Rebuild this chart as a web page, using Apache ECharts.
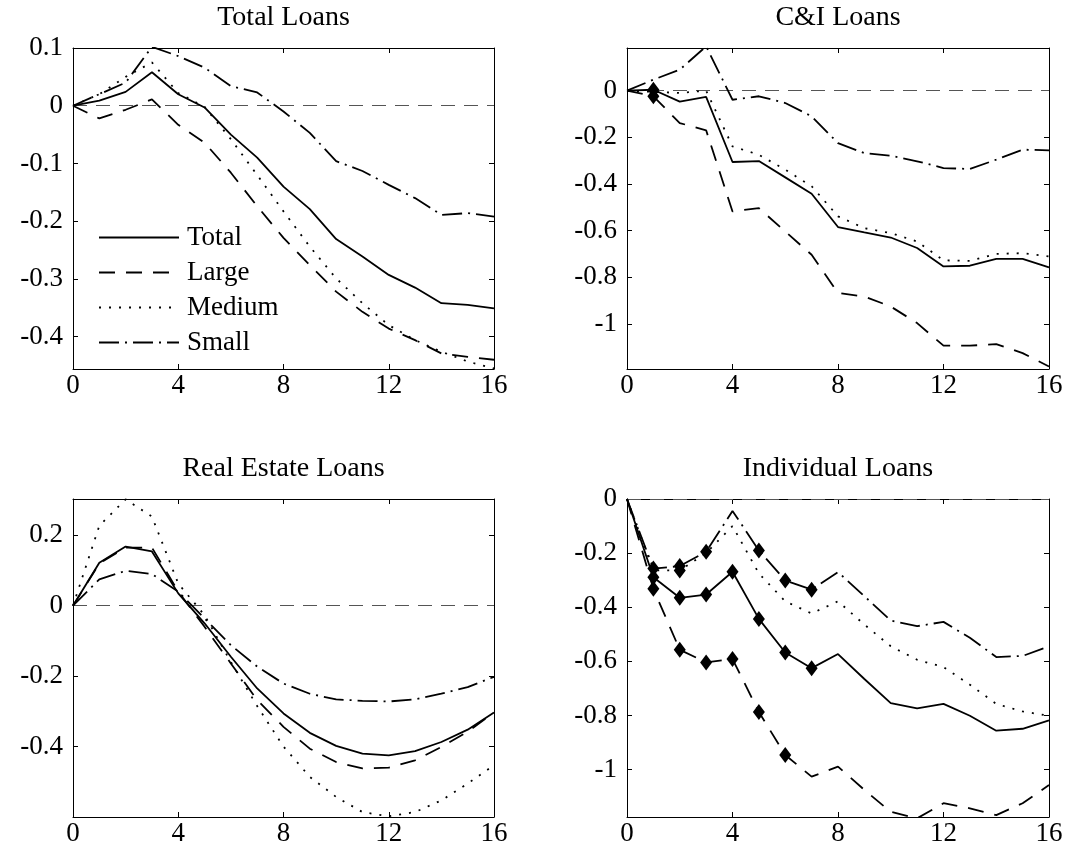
<!DOCTYPE html>
<html>
<head>
<meta charset="utf-8">
<title>Loan responses by bank size</title>
<script src="https://cdn.jsdelivr.net/npm/echarts@6/dist/echarts.min.js"></script>
<style>
  html, body { margin: 0; padding: 0; background: #fff; }
  #chart { width: 1070px; height: 859px; }
</style>
</head>
<body>
<div id="chart"></div>
<script>
// Horizon (quarters after the shock)
const steps = [0, 1, 2, 3, 4, 5, 6, 7, 8, 9, 10, 11, 12, 13, 14, 15, 16];
const xTicks = [0, 4, 8, 12, 16];

const panelTitles = ['Total Loans', 'C&I Loans', 'Real Estate Loans', 'Individual Loans'];
const seriesNames = ['Total', 'Large', 'Medium', 'Small'];

// Total Loans
const totalLoansTotal  = [0, 0.009, 0.024, 0.058, 0.020, -0.003, -0.050, -0.090, -0.140, -0.179, -0.231, -0.261, -0.293, -0.315, -0.342, -0.345, -0.351];
const totalLoansLarge  = [0, -0.022, -0.007, 0.011, -0.033, -0.064, -0.116, -0.174, -0.229, -0.276, -0.322, -0.357, -0.386, -0.406, -0.429, -0.435, -0.440];
const totalLoansMedium = [0, 0.020, 0.050, 0.075, 0.022, -0.002, -0.058, -0.120, -0.183, -0.244, -0.299, -0.342, -0.380, -0.406, -0.426, -0.443, -0.455];
const totalLoansSmall  = [0, 0.020, 0.040, 0.102, 0.086, 0.066, 0.034, 0.023, -0.010, -0.047, -0.096, -0.113, -0.137, -0.160, -0.189, -0.186, -0.192];
const totalLoansTicks  = [0.1, 0, -0.1, -0.2, -0.3, -0.4];

// C&I Loans
const ciTotal  = [0, 0.004, -0.047, -0.027, -0.306, -0.302, -0.372, -0.442, -0.585, -0.608, -0.630, -0.675, -0.754, -0.751, -0.722, -0.722, -0.758];
const ciLarge  = [0, -0.024, -0.139, -0.170, -0.518, -0.504, -0.604, -0.704, -0.868, -0.883, -0.926, -0.997, -1.094, -1.094, -1.087, -1.126, -1.183];
const ciMedium = [0, -0.005, -0.010, 0, -0.239, -0.275, -0.339, -0.410, -0.539, -0.590, -0.611, -0.647, -0.728, -0.730, -0.700, -0.697, -0.711];
const ciSmall  = [0, 0.047, 0.090, 0.190, -0.039, -0.024, -0.053, -0.110, -0.225, -0.268, -0.279, -0.303, -0.332, -0.336, -0.296, -0.253, -0.256];
const ciTicks  = [0, -0.2, -0.4, -0.6, -0.8, -1];

// Real Estate Loans
const reTotal  = [0, 0.122, 0.168, 0.154, 0.035, -0.050, -0.145, -0.235, -0.306, -0.361, -0.398, -0.420, -0.425, -0.413, -0.387, -0.352, -0.303];
const reLarge  = [0, 0.120, 0.165, 0.165, 0.040, -0.060, -0.164, -0.268, -0.344, -0.406, -0.444, -0.462, -0.460, -0.439, -0.401, -0.358, -0.303];
const reMedium = [0, 0.227, 0.302, 0.253, 0.063, -0.027, -0.160, -0.285, -0.400, -0.486, -0.543, -0.586, -0.598, -0.586, -0.553, -0.505, -0.453];
const reSmall  = [0, 0.075, 0.099, 0.090, 0.040, -0.036, -0.112, -0.173, -0.221, -0.250, -0.266, -0.270, -0.272, -0.266, -0.250, -0.231, -0.202];
const reTicks  = [0.2, 0, -0.2, -0.4];

// Individual Loans
const indTotal  = [0, -0.289, -0.365, -0.353, -0.269, -0.443, -0.567, -0.625, -0.573, -0.665, -0.754, -0.774, -0.757, -0.801, -0.856, -0.849, -0.818];
const indLarge  = [0, -0.332, -0.557, -0.604, -0.591, -0.787, -0.946, -1.026, -0.989, -1.075, -1.156, -1.180, -1.124, -1.143, -1.168, -1.124, -1.057];
const indMedium = [0, -0.264, -0.264, -0.200, -0.100, -0.275, -0.378, -0.423, -0.378, -0.464, -0.544, -0.594, -0.621, -0.686, -0.757, -0.785, -0.801];
const indSmall  = [0, -0.257, -0.248, -0.195, -0.044, -0.190, -0.301, -0.335, -0.270, -0.359, -0.449, -0.470, -0.454, -0.513, -0.584, -0.580, -0.544];
const indTicks  = [0, -0.2, -0.4, -0.6, -0.8, -1];

// Horizons flagged with a diamond marker
const ciTotalMarked  = [1];
const ciLargeMarked  = [1];
const indTotalMarked  = [1, 2, 3, 4, 5, 6, 7];
const indLargeMarked  = [1, 2, 3, 4, 5, 6];
const indMediumMarked = [2];
const indSmallMarked  = [1, 2, 3, 5, 6, 7];

const FONT = '"Liberation Serif", "Times New Roman", serif';

const panels = [
  { title: panelTitles[0], range: [-0.456, 0.1], ticks: totalLoansTicks,
    grid: { left: 73, top: 48, width: 421, height: 321 },
    lines: [totalLoansTotal, totalLoansLarge, totalLoansMedium, totalLoansSmall],
    marked: [[], [], [], []] },
  { title: panelTitles[1], range: [-1.194, 0.183], ticks: ciTicks,
    grid: { left: 627, top: 48, width: 422, height: 321 },
    lines: [ciTotal, ciLarge, ciMedium, ciSmall],
    marked: [ciTotalMarked, ciLargeMarked, [], []] },
  { title: panelTitles[2], range: [-0.6, 0.303], ticks: reTicks,
    grid: { left: 73, top: 499, width: 421, height: 318 },
    lines: [reTotal, reLarge, reMedium, reSmall],
    marked: [[], [], [], []] },
  { title: panelTitles[3], range: [-1.175, 0], ticks: indTicks,
    grid: { left: 627, top: 499, width: 422, height: 318 },
    lines: [indTotal, indLarge, indMedium, indSmall],
    marked: [indTotalMarked, indLargeMarked, indMediumMarked, indSmallMarked] }
];

const lineTypes = {
  Total: 'solid',
  Large: [16, 11],
  Medium: [2, 8],
  Small: [20, 6, 2, 6]
};

const grids = [], xAxes = [], yAxes = [], series = [], graphics = [];

panels.forEach((p, gi) => {
  grids.push(p.grid);

  const xBase = {
    type: 'value', gridIndex: gi, min: 0, max: 16, interval: 4,
    axisLine: { show: true, onZero: false, lineStyle: { color: '#000', width: 1 } },
    axisTick: { show: true, inside: true, length: 5, lineStyle: { color: '#000', width: 1 } },
    splitLine: { show: false }
  };
  xAxes.push(Object.assign({}, xBase, {
    position: 'bottom',
    axisLabel: { show: true, margin: 3, color: '#000', fontFamily: FONT, fontSize: 27,
                 showMinLabel: true, showMaxLabel: true,
                 customValues: xTicks }
  }));
  xAxes.push(Object.assign({}, xBase, { position: 'top', axisLabel: { show: false } }));

  const yBase = {
    type: 'value', gridIndex: gi, min: p.range[0], max: p.range[1],
    axisLine: { show: true, onZero: false, lineStyle: { color: '#000', width: 1 } },
    axisTick: { show: true, inside: true, length: 5, customValues: p.ticks,
                lineStyle: { color: '#000', width: 1 } },
    splitLine: { show: false }
  };
  yAxes.push(Object.assign({}, yBase, {
    position: 'left',
    axisLabel: { show: true, margin: 10, color: '#000', fontFamily: FONT, fontSize: 27,
                 customValues: p.ticks, formatter: v => String(v) }
  }));
  yAxes.push(Object.assign({}, yBase, { position: 'right', axisLabel: { show: false } }));

  seriesNames.forEach((name, si) => {
    const vals = p.lines[si];
    const marks = p.marked[si];
    const s = {
      type: 'line', name: name,
      xAxisIndex: gi * 2, yAxisIndex: gi * 2,
      data: vals.map((v, i) => marks.includes(i)
        ? { value: [steps[i], v], symbol: 'diamond', symbolSize: [12, 16] }
        : [steps[i], v]),
      symbol: 'none',
      showSymbol: true,
      clip: true,
      silent: true,
      color: '#000',
      itemStyle: { color: '#000' },
      lineStyle: { color: '#000', width: 1.8, type: lineTypes[name], cap: 'butt' },
      emphasis: { disabled: true },
      z: 3
    };
    if (si === 0) {
      s.markLine = {
        silent: true, symbol: ['none', 'none'],
        label: { show: false },
        lineStyle: { color: '#555', width: 1.2, type: [14, 9] },
        data: [{ yAxis: 0 }],
        z: 1
      };
    }
    series.push(s);
  });

  graphics.push({
    type: 'text',
    x: p.grid.left + p.grid.width / 2,
    y: p.grid.top - 30,
    style: {
      text: p.title, fill: '#000', font: '28px ' + FONT,
      textAlign: 'center', textVerticalAlign: 'middle'
    }
  });
});

const chart = echarts.init(document.getElementById('chart'), null, { renderer: 'canvas' });
chart.setOption({
  animation: false,
  backgroundColor: '#fff',
  grid: grids,
  xAxis: xAxes,
  yAxis: yAxes,
  series: series,
  graphic: graphics,
  legend: {
    data: seriesNames,
    left: 98, top: 224, padding: 0,
    orient: 'vertical',
    itemWidth: 80, itemHeight: 14, itemGap: 8,
    selectedMode: false,
    itemStyle: { opacity: 0 },
    textStyle: { color: '#000', fontFamily: FONT, fontSize: 27, lineHeight: 27, padding: [0, 0, 0, 3] }
  }
});
</script>
</body>
</html>
